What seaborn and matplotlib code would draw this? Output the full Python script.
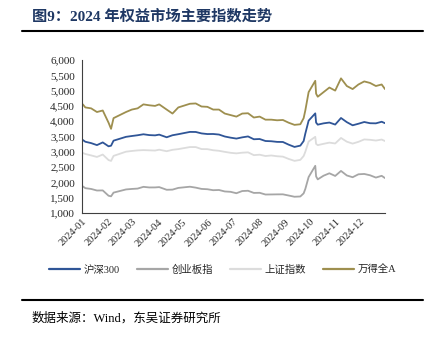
import matplotlib
matplotlib.use("Agg")
import matplotlib.pyplot as plt
from matplotlib.lines import Line2D
import seaborn as sns
import pandas as pd

# Closing levels sampled on key trading days of 2024
dates = [
    "2024-01-02", "2024-01-05", "2024-01-12", "2024-01-19", "2024-01-26",
    "2024-02-02", "2024-02-05", "2024-02-08", "2024-02-23", "2024-03-01",
    "2024-03-08", "2024-03-15", "2024-03-22", "2024-03-29", "2024-04-03",
    "2024-04-12", "2024-04-19", "2024-04-26", "2024-05-10", "2024-05-17",
    "2024-05-24", "2024-05-31", "2024-06-07", "2024-06-14", "2024-06-21",
    "2024-06-28", "2024-07-05", "2024-07-12", "2024-07-19", "2024-07-26",
    "2024-08-02", "2024-08-09", "2024-08-16", "2024-08-23", "2024-08-30",
    "2024-09-06", "2024-09-13", "2024-09-20", "2024-09-24", "2024-09-26",
    "2024-09-30", "2024-10-08", "2024-10-09", "2024-10-11", "2024-10-18",
    "2024-10-25", "2024-11-01", "2024-11-08", "2024-11-15", "2024-11-22",
    "2024-11-29", "2024-12-06", "2024-12-13", "2024-12-20", "2024-12-27",
    "2024-12-31",
]

hs300 = [
    3386, 3329, 3284, 3219, 3307, 3179, 3199, 3364, 3489, 3516,
    3541, 3573, 3546, 3537, 3561, 3475, 3541, 3575, 3650, 3648,
    3601, 3580, 3582, 3564, 3500, 3462, 3432, 3472, 3502, 3410,
    3418, 3353, 3345, 3324, 3321, 3233, 3159, 3202, 3352, 3593,
    4018, 4256, 3955, 3887, 3930, 3956, 3890, 4105, 3969, 3866,
    3917, 3974, 3934, 3930, 3982, 3935,
]

chinext = [
    1870, 1812, 1786, 1735, 1738, 1564, 1545, 1666, 1770, 1786,
    1798, 1855, 1835, 1836, 1846, 1759, 1764, 1820, 1859, 1829,
    1787, 1777, 1745, 1752, 1704, 1692, 1646, 1718, 1727, 1656,
    1660, 1604, 1606, 1609, 1610, 1571, 1531, 1540, 1642, 1785,
    2175, 2542, 2195, 2099, 2219, 2298, 2211, 2375, 2227, 2169,
    2265, 2276, 2233, 2158, 2215, 2141,
]

sse = [
    2962, 2929, 2882, 2832, 2910, 2730, 2702, 2866, 3004, 3027,
    3046, 3055, 3048, 3041, 3069, 3019, 3065, 3088, 3155, 3154,
    3089, 3087, 3051, 3033, 2998, 2967, 2949, 2971, 2982, 2891,
    2905, 2862, 2880, 2855, 2842, 2766, 2704, 2736, 2863, 3000,
    3336, 3489, 3258, 3217, 3261, 3300, 3272, 3452, 3331, 3268,
    3326, 3404, 3392, 3368, 3400, 3352,
]

wind_a = [
    4550, 4450, 4420, 4300, 4350, 3950, 3750, 4100, 4300, 4380,
    4420, 4550, 4520, 4500, 4550, 4380, 4250, 4450, 4570, 4580,
    4480, 4470, 4380, 4380, 4250, 4200, 4150, 4250, 4260, 4120,
    4150, 4050, 4050, 4030, 4040, 3950, 3880, 3900, 4100, 4350,
    4950, 5320, 4900, 4800, 4950, 5100, 5000, 5400, 5150, 5050,
    5200, 5300, 5250, 5150, 5200, 5050,
]

series_names = ["沪深300", "创业板指", "上证指数", "万得全A"]
series_values = [hs300, chinext, sse, wind_a]
colors = ["#2F5597", "#A6A6A6", "#DCDCDC", "#9E8F4F"]

month_ticks = [f"2024-{m:02d}" for m in range(1, 13)]

frames = []
for name, vals in zip(series_names, series_values):
    frames.append(pd.DataFrame({"date": pd.to_datetime(dates), "value": vals, "index": name}))
df = pd.concat(frames, ignore_index=True)

sns.set_style("white")
serif_cjk = ["Liberation Serif", "Noto Sans CJK SC", "DejaVu Sans"]
plt.rcParams["font.family"] = serif_cjk

fig = plt.figure(figsize=(4.37, 3.38), dpi=100)
ax = fig.add_axes([82 / 437, 1 - 213 / 338, (385 - 82) / 437, (213 - 60) / 338])

sns.lineplot(data=df, x="date", y="value", hue="index", hue_order=series_names,
             palette=colors, linewidth=1.3, ax=ax, legend=False)

ax.set_xlim(pd.Timestamp("2024-01-01"), pd.Timestamp("2024-12-31"))
ax.set_ylim(1000, 6000)
ax.set_yticks(range(1000, 6001, 500))
ax.set_yticklabels([f"{v:,}" for v in range(1000, 6001, 500)], fontsize=8)
ax.set_xticks(pd.to_datetime([t + "-01" for t in month_ticks]))
ax.set_xticklabels(month_ticks, rotation=45, ha="right", rotation_mode="anchor", fontsize=7.5)
ax.set_xlabel("")
ax.set_ylabel("")

for side in ["top", "right"]:
    ax.spines[side].set_visible(False)
for side in ["left", "bottom"]:
    ax.spines[side].set_color("#404040")
    ax.spines[side].set_linewidth(0.8)
ax.tick_params(axis="y", direction="out", length=3, width=0.8, color="#404040", pad=2)
ax.tick_params(axis="x", direction="in", length=3, width=0.8, color="#404040", pad=3)
ax.grid(False)

handles = [Line2D([], [], color=c, linewidth=1.6) for c in colors]
fig.legend(handles, series_names, loc="center", bbox_to_anchor=(0.51, 1 - 270 / 338),
           ncol=4, frameon=False, fontsize=7.5, handlelength=3.0, columnspacing=1.6,
           handletextpad=0.35)

fig.text(32 / 437, 1 - 16 / 338, "图9：2024 年权益市场主要指数走势", fontsize=11,
         fontweight="bold", color="#1F3864", va="center", ha="left")
fig.add_artist(Line2D([22 / 437, 423 / 437], [1 - 31 / 338] * 2, color="black", linewidth=1.5))
fig.add_artist(Line2D([22 / 437, 423 / 437], [1 - 300 / 338] * 2, color="black", linewidth=1.5))
fig.text(32 / 437, 1 - 318 / 338, "数据来源：Wind，东吴证券研究所", fontsize=9,
         color="black", va="center", ha="left")

fig.savefig("out.png", dpi=100)
